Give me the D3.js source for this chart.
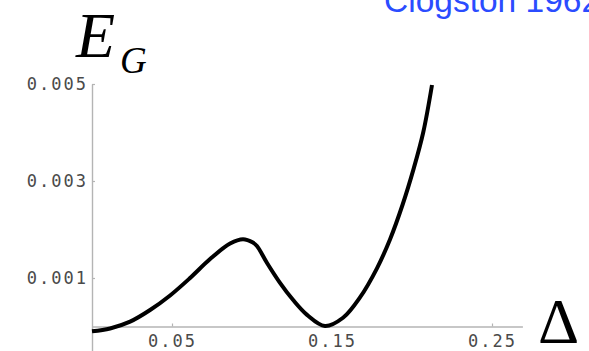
<!DOCTYPE html>
<html>
<head>
<meta charset="utf-8">
<script src="https://cdn.jsdelivr.net/npm/d3@7"></script>
<style>
  html, body { margin: 0; padding: 0; background: #fff; }
  svg { display: block; }
</style>
</head>
<body>
<script>
// energy gap E_G versus order parameter Delta
const deltaValues = [0, 0.0113, 0.0238, 0.0363, 0.0488, 0.0613, 0.0738, 0.0863, 0.0944, 0.1006, 0.1031, 0.1094, 0.1175, 0.1256, 0.1344, 0.1456, 0.1569, 0.1675, 0.1781, 0.1863, 0.1940, 0.2010, 0.2070, 0.2125];
const energyValues = [-0.0001, -0.00004, 0.00010, 0.00034, 0.00064, 0.00100, 0.00139, 0.00171, 0.00180, 0.00173, 0.00166, 0.00131, 0.00090, 0.00055, 0.00024, 0.00001, 0.00018, 0.00060, 0.00120, 0.00180, 0.00250, 0.00325, 0.00400, 0.00498];
const xTickValues = [0.05, 0.15, 0.25];
const yTickValues = [0.001, 0.003, 0.005];
const yLabel = 'E';
const yLabelSub = 'G';
const xLabel = '\u0394';
const noteText = 'Clogston 1962';

const width = 589, height = 351;
const dataset = deltaValues.map((d, i) => ({ x: d, y: energyValues[i] }));

const svg = d3.select('body')
    .append('svg')
    .attr('width', width)
    .attr('height', height);

const xScale = d3.scaleLinear()
    .domain([0, 0.269])
    .range([92, 522.4]);

const yScale = d3.scaleLinear()
    .domain([-0.0005, 0.005])
    .range([350.75, 84]);

// bottom axis, ticks pointing inward
const xAxis = d3.axisBottom(xScale)
    .tickValues(xTickValues)
    .tickFormat(d3.format('.2f'))
    .tickSizeInner(-3)
    .tickSizeOuter(0)
    .tickPadding(8);
const xAxisGroup = svg.append('g')
    .attr('transform', `translate(0, ${yScale(0)})`)
    .call(xAxis);

const yAxis = d3.axisLeft(yScale)
    .tickValues(yTickValues)
    .tickFormat(d3.format('.3f'))
    .tickSizeInner(-3)
    .tickSizeOuter(0)
    .tickPadding(4);
const yAxisGroup = svg.append('g')
    .attr('transform', `translate(${xScale(0)}, 0)`)
    .call(yAxis);

[xAxisGroup, yAxisGroup].forEach(g => {
    g.select('.domain').attr('stroke', '#b4b4b4').attr('stroke-width', 1.4);
    g.selectAll('.tick line').attr('stroke', '#b4b4b4').attr('stroke-width', 1.2);
    g.selectAll('.tick text')
        .attr('fill', '#4a4a4a')
        .style('font-family', '"DejaVu Sans Mono", monospace')
        .style('font-size', '17px')
        .style('letter-spacing', '2px');
});

const line = d3.line()
    .curve(d3.curveCatmullRom.alpha(0.5))
    .x(d => xScale(d.x))
    .y(d => yScale(d.y));

svg.append('path')
    .datum(dataset)
    .attr('fill', 'none')
    .attr('stroke', '#000')
    .attr('stroke-width', 4)
    .attr('stroke-linejoin', 'round')
    .attr('d', line);

// axis titles
const eg = svg.append('text')
    .attr('x', 76)
    .attr('y', 57)
    .style('font-family', '"Liberation Serif", "Times New Roman", serif')
    .style('font-style', 'italic')
    .attr('fill', '#000');
eg.append('tspan').style('font-size', '64px').text(yLabel);
eg.append('tspan')
    .attr('x', 120)
    .attr('y', 73)
    .style('font-size', '37px')
    .text(yLabelSub);

svg.append('text')
    .attr('x', 538)
    .attr('y', 343)
    .style('font-family', '"Liberation Serif", "Times New Roman", serif')
    .style('font-size', '64px')
    .attr('fill', '#000')
    .text(xLabel);

svg.append('text')
    .attr('x', 384)
    .attr('y', 12)
    .style('font-family', '"Liberation Sans", Arial, sans-serif')
    .style('font-size', '33.5px')
    .attr('fill', '#2b4cff')
    .text(noteText);
</script>
</body>
</html>
